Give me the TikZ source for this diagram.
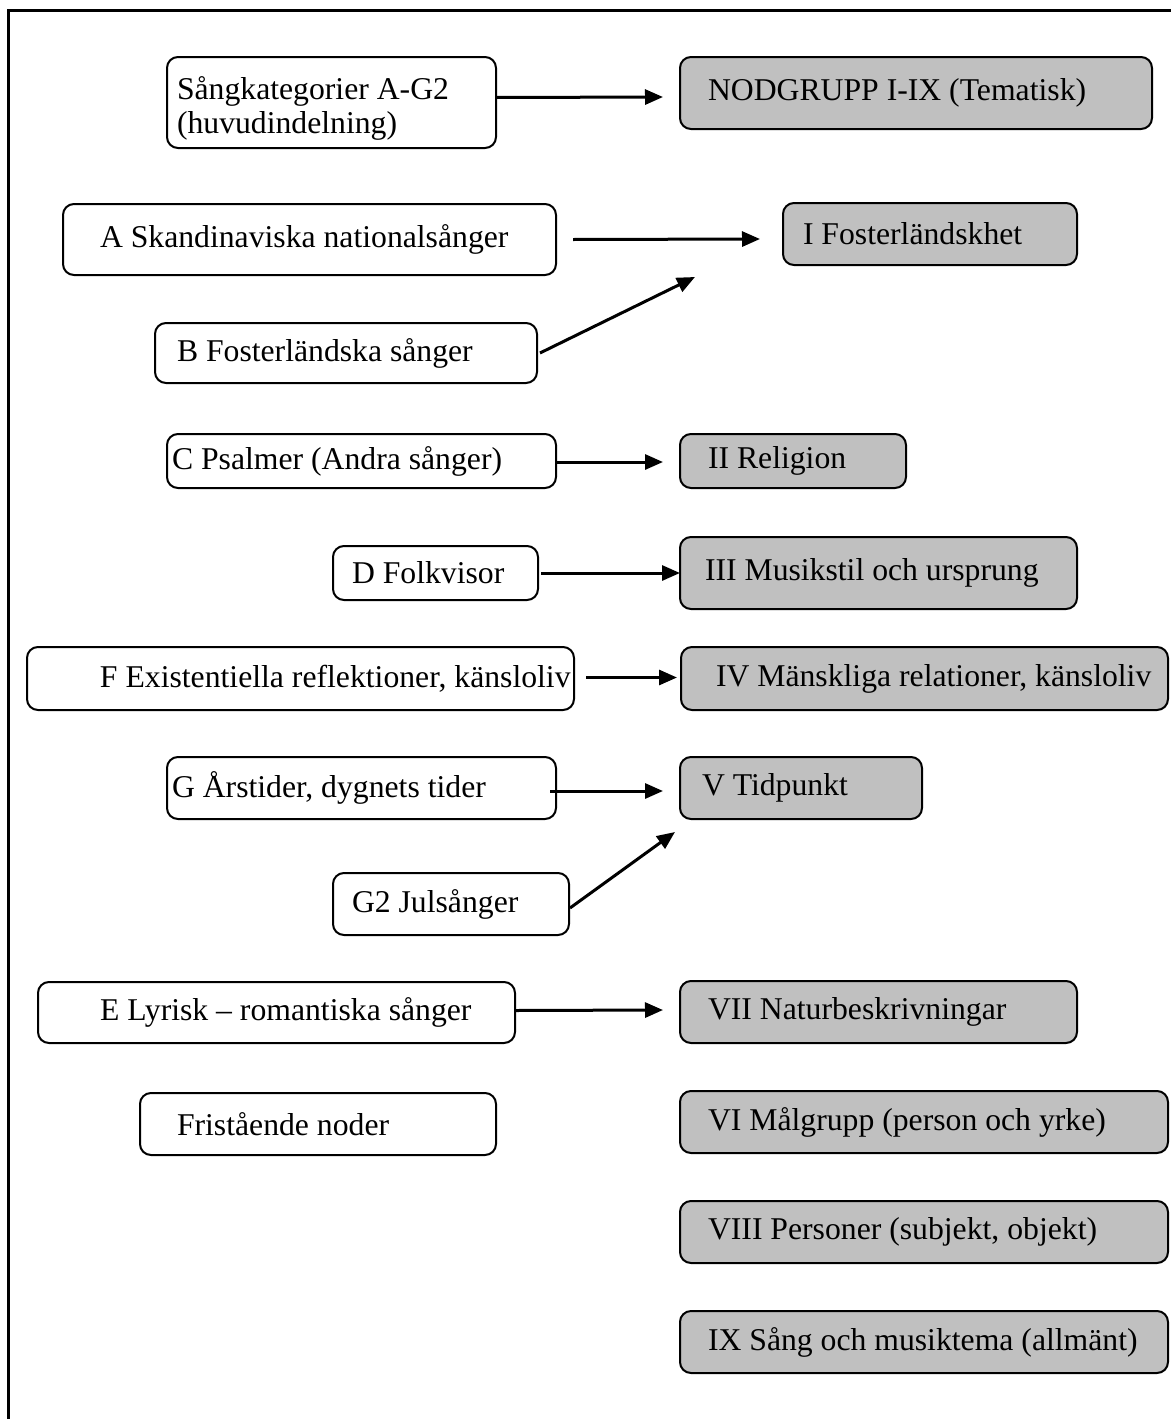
\documentclass[tikz,border=0pt]{standalone}
\usepackage{fontspec}
\setmainfont{Liberation Serif}
\usetikzlibrary{arrows.meta}
\definecolor{boxgray}{HTML}{C0C0C0}
\newcommand\bx[8]{%
  \pgfmathsetmacro\bxw{#5-#3}\pgfmathsetmacro\bxh{#6-#4}\pgfmathsetmacro\bxp{#7-#3}%
  \node[#1, minimum width=\bxw pt, minimum height=\bxh pt] (#2) at ({(#3+#5)/2},{(#4+#6)/2})
    {\makebox[\bxw pt][l]{\hspace*{\bxp pt}#8}};}
\tikzset{
  catbox/.style={draw, line width=2pt, rounded corners=11pt, fill=white, inner sep=0pt, outer sep=0pt},
  grpbox/.style={catbox, fill=boxgray},
  arr/.style={line width=3pt, -{Triangle[length=18pt,width=15pt]}},
  frameline/.style={line width=3pt}
}
\begin{document}
\begin{tikzpicture}[x=1pt, y=-1pt, font=\fontsize{31.7}{34}\selectfont]
\useasboundingbox (0,0) rectangle (1171,1419);
\draw[frameline] (8,1419) -- (8,10) -- (1171,10);
% left column
\bx{catbox}{S}{167}{57}{496}{148}{177}{\raisebox{-7pt}[\height][\depth]{\begin{tabular}{@{}l@{}}Sångkategorier A-G2\\(huvudindelning)\end{tabular}}}
\bx{catbox}{A}{63}{204}{556}{275}{100}{A Skandinaviska nationalsånger}
\bx{catbox}{B}{155}{323}{537}{383}{177}{B Fosterländska sånger}
\bx{catbox}{C}{167}{434}{556}{488}{172}{C Psalmer (Andra sånger)}
\bx{catbox}{D}{333}{546}{538}{600}{352}{D Folkvisor}
\bx{catbox}{F}{27}{647}{574}{710}{100}{F Existentiella reflektioner, känsloliv}
\bx{catbox}{G}{167}{757}{556}{819}{172}{G Årstider, dygnets tider}
\bx{catbox}{G2}{333}{873}{569}{935}{352}{G2 Julsånger}
\bx{catbox}{E}{38}{982}{515}{1043}{100}{E Lyrisk – romantiska sånger}
\bx{catbox}{Fr}{140}{1093}{496}{1155}{177}{Fristående noder}
% right column
\bx{grpbox}{N}{680}{57}{1152}{129}{708}{NODGRUPP I-IX (Tematisk)}
\bx{grpbox}{I}{783}{203}{1077}{265}{803}{I Fosterländskhet}
\bx{grpbox}{II}{680}{434}{906}{488}{708}{II Religion}
\bx{grpbox}{III}{680}{537}{1077}{609}{705}{III Musikstil och ursprung}
\bx{grpbox}{IV}{681}{647}{1168}{710}{716}{IV Mänskliga relationer, känsloliv}
\bx{grpbox}{V}{680}{757}{922}{819}{702}{V Tidpunkt}
\bx{grpbox}{VII}{680}{981}{1077}{1043}{708}{VII Naturbeskrivningar}
\bx{grpbox}{VI}{680}{1091}{1168}{1153}{708}{VI Målgrupp (person och yrke)}
\bx{grpbox}{VIII}{680}{1201}{1168}{1263}{708}{VIII Personer (subjekt, objekt)}
\bx{grpbox}{IX}{680}{1311}{1168}{1373}{708}{IX Sång och musiktema (allmänt)}
% free arrow ends
\coordinate (Bend) at (695,277);
\coordinate (G2end) at (675,832);
% connectors
\draw[arr] ([yshift=5pt]S.east) -- ([xshift=-17pt,yshift=-4pt]N.west);
\draw[arr] ([xshift=17pt]A.east) -- ([xshift=-23pt,yshift=-5pt]I.west);
\draw[arr] ([xshift=3pt,yshift=0pt]B.east) -- (Bend);
\draw[arr] ([xshift=1pt,yshift=-1pt]C.east) -- ([xshift=-17pt,yshift=-1pt]II.west);
\draw[arr] ([xshift=3pt]D.east) -- ([yshift=0pt]III.west);
\draw[arr] ([xshift=12pt,yshift=1pt]F.east) -- ([xshift=-4pt,yshift=1pt]IV.west);
\draw[arr] ([xshift=-6pt,yshift=-3pt]G.east) -- ([xshift=-17pt,yshift=-3pt]V.west);
\draw[arr] ([xshift=1pt,yshift=-4pt]G2.east) -- (G2end);
\draw[arr] ([yshift=2pt]E.east) -- ([xshift=-17pt,yshift=2pt]VII.west);
\end{tikzpicture}
\end{document}
